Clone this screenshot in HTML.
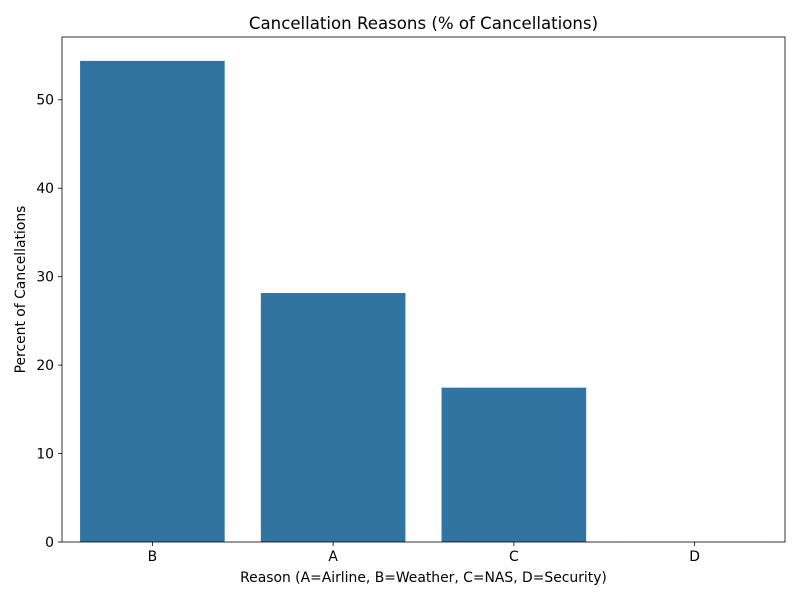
<!DOCTYPE html>
<html><head><meta charset="utf-8"><style>
body{margin:0;background:#fff;}
svg text{font-family:"DejaVu Sans","Liberation Sans",sans-serif;fill:#000;}
</style></head><body>
<svg width="800" height="600" xmlns="http://www.w3.org/2000/svg">
<rect width="800" height="600" fill="#fff"/>
<g id="plot"></g>
</svg>
<script>
const categories = ["B","A","C","D"];
const values = [54.4, 28.15, 17.45, 0.02];
const yTicks = [0,10,20,30,40,50];
const title = "Cancellation Reasons (% of Cancellations)";
const xTitle = "Reason (A=Airline, B=Weather, C=NAS, D=Security)";
const yTitle = "Percent of Cancellations";

const L=62,R=785,T=37,B=542,yMax=57.1;
const svg=document.getElementById('plot');
const NS="http://www.w3.org/2000/svg";
const y=v=>B-(v/yMax)*(B-T);
const band=(R-L)/categories.length;
const x=i=>L+band*i+band*0.1;
function mk(tag,attrs,text){const e=document.createElementNS(NS,tag);for(const k in attrs)e.setAttribute(k,attrs[k]);if(text!==undefined)e.textContent=text;svg.appendChild(e);return e;}

categories.forEach((c,i)=>{
  const r=mk('rect',{x:x(i),y:y(values[i]),width:band*0.8,height:B-y(values[i]),fill:'#3274a1'});
  
  
  const tx=L+band*(i+0.5);
  mk('line',{x1:tx,x2:tx,y1:B,y2:B+4,stroke:'#000','stroke-width':0.8});
  const t=mk('text',{x:tx,y:B+19,'text-anchor':'middle','font-size':13.9},c);
  
  
});
yTicks.forEach(v=>{
  mk('line',{x1:L-4,x2:L,y1:y(v),y2:y(v),stroke:'#000','stroke-width':0.8});
  const t=mk('text',{x:L-8,y:y(v)+4.8,'text-anchor':'end','font-size':13.9},v);
  
  
});
const fr=mk('rect',{x:L,y:T,width:R-L,height:B-T,fill:'none',stroke:'#000','stroke-width':0.8});


const tt=mk('text',{x:(L+R)/2,y:29,'text-anchor':'middle','font-size':16.6},title);


const xt=mk('text',{x:(L+R)/2,y:582,'text-anchor':'middle','font-size':13.9},xTitle);


const yt=mk('text',{x:25,y:(T+B)/2,'text-anchor':'middle','font-size':13.9,transform:`rotate(-90 25 ${(T+B)/2})`},yTitle);


</script>
</body></html>
